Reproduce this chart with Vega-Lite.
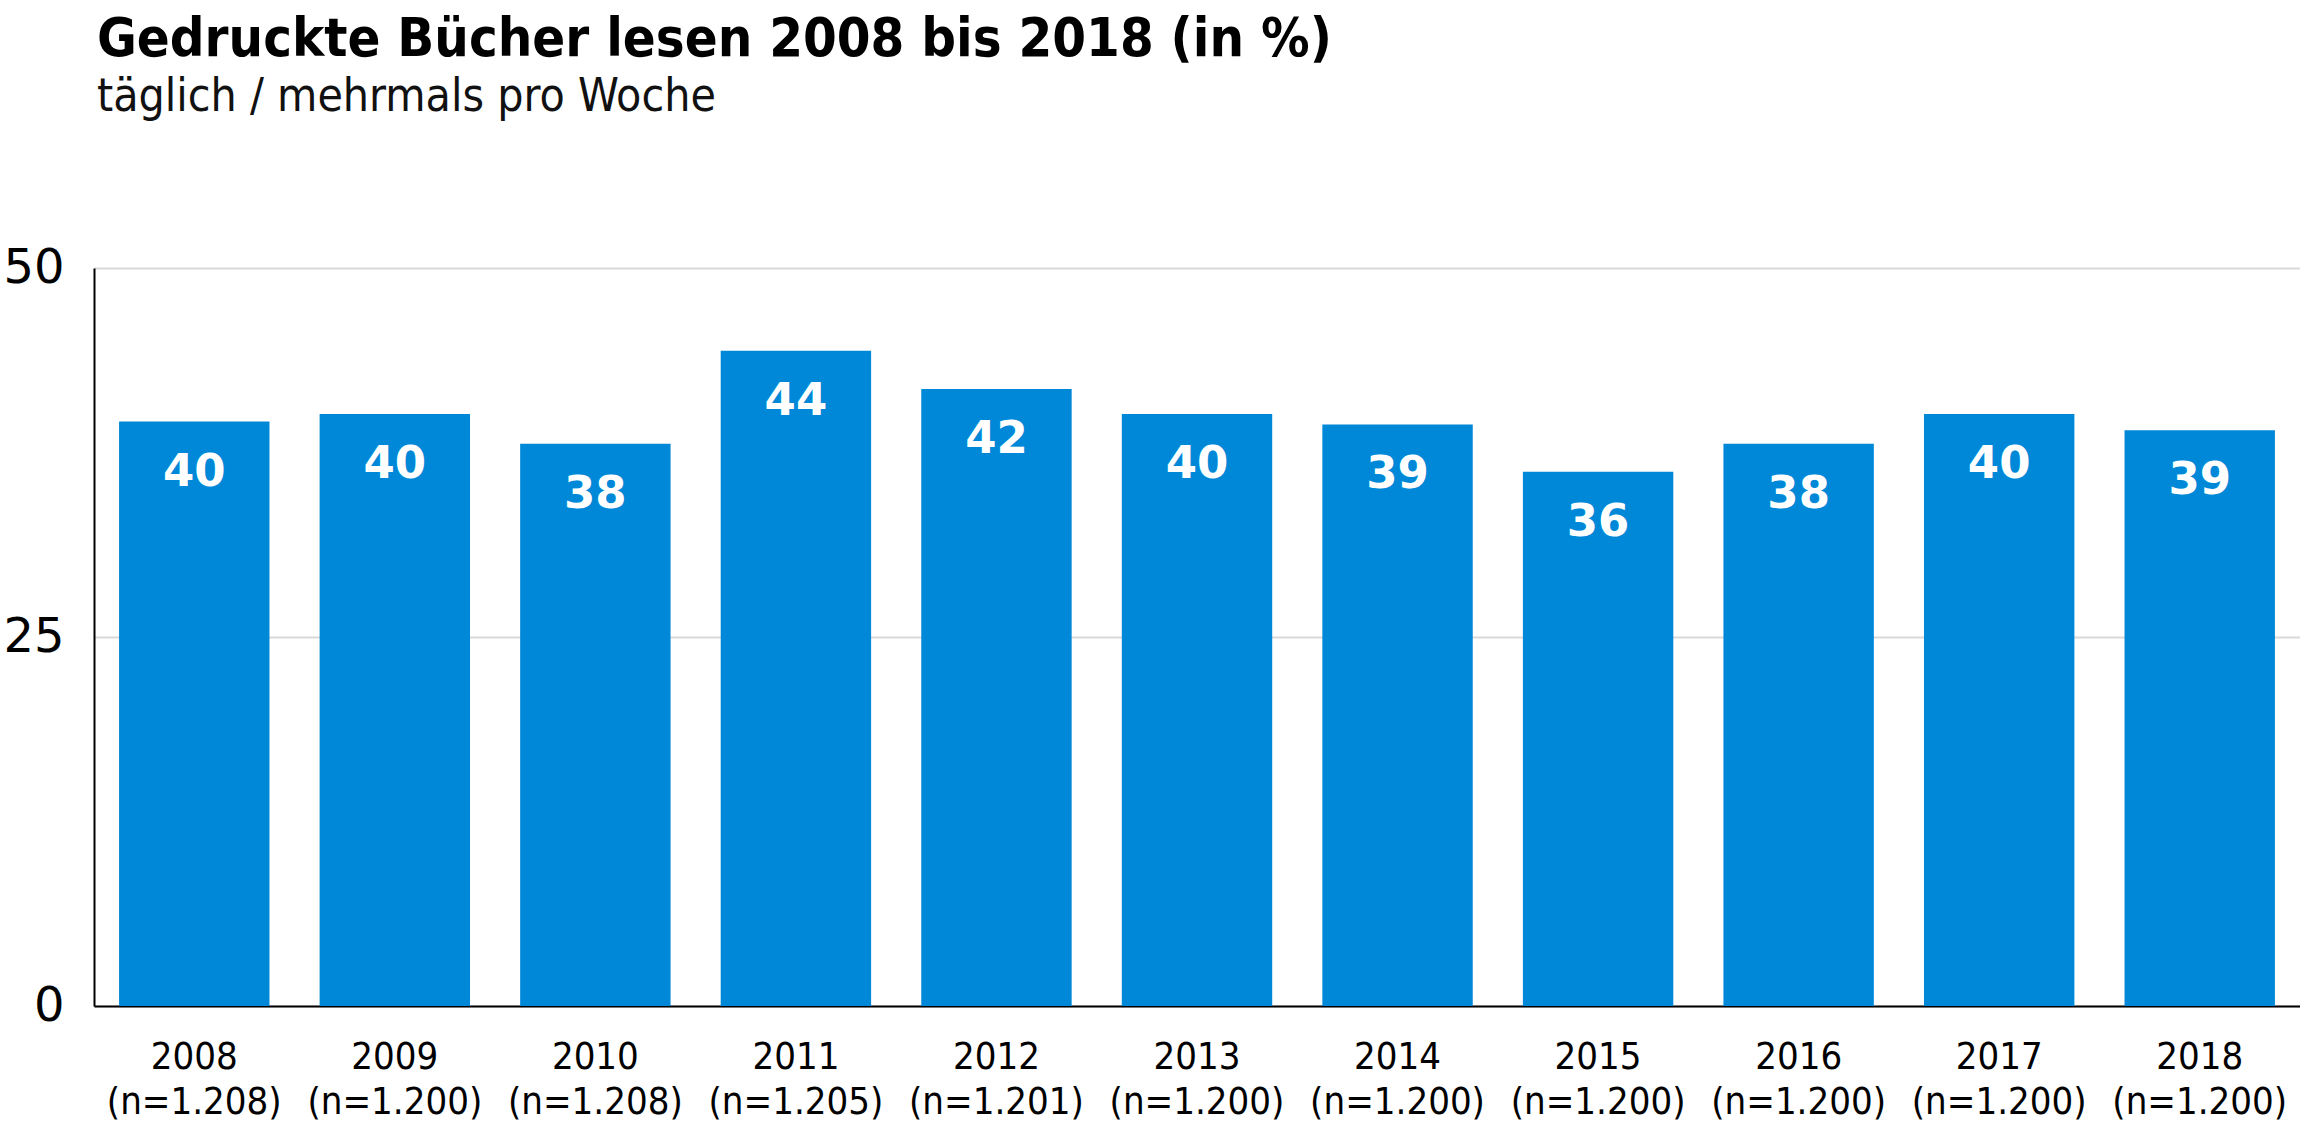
{
  "$schema": "https://vega.github.io/schema/vega-lite/v6.json",
  "width": 2206,
  "height": 738,
  "autosize": "none",
  "padding": {"left": 94, "top": 268, "right": 0, "bottom": 123},
  "background": "white",
  "config": {"view": {"stroke": null}},
  "title": {
    "text": "Gedruckte Bücher lesen 2008 bis 2018 (in %)",
    "subtitle": "täglich / mehrmals pro Woche",
    "anchor": "start",
    "frame": "group",
    "font": "DejaVu Sans Condensed, sans-serif",
    "fontSize": 54,
    "fontWeight": "bold",
    "color": "black",
    "subtitleFont": "DejaVu Sans Condensed, sans-serif",
    "subtitleFontSize": 46,
    "subtitleColor": "#111111",
    "subtitlePadding": 8,
    "offset": 124,
    "dx": 3
  },
  "data": {
    "values": [
      {"label": "2008 (n=1.208)", "value": 39.6},
      {"label": "2009 (n=1.200)", "value": 40.1},
      {"label": "2010 (n=1.208)", "value": 38.1},
      {"label": "2011 (n=1.205)", "value": 44.4},
      {"label": "2012 (n=1.201)", "value": 41.8},
      {"label": "2013 (n=1.200)", "value": 40.1},
      {"label": "2014 (n=1.200)", "value": 39.4},
      {"label": "2015 (n=1.200)", "value": 36.2},
      {"label": "2016 (n=1.200)", "value": 38.1},
      {"label": "2017 (n=1.200)", "value": 40.1},
      {"label": "2018 (n=1.200)", "value": 39.0}
    ]
  },
  "encoding": {
    "x": {
      "field": "label",
      "type": "ordinal",
      "sort": null,
      "scale": {"paddingInner": 0.25, "paddingOuter": 0.125},
      "axis": {
        "title": null,
        "labelAngle": 0,
        "labelExpr": "split(datum.value, ' ')",
        "ticks": false,
        "domainColor": "black",
        "domainWidth": 2,
        "labelFont": "DejaVu Sans Condensed, sans-serif",
        "labelFontSize": 38,
        "labelColor": "black",
        "labelPadding": 32,
        "labelLineHeight": 45
      }
    },
    "y": {
      "field": "value",
      "type": "quantitative",
      "scale": {"domain": [0, 50]},
      "axis": {
        "title": null,
        "values": [0, 25, 50],
        "ticks": false,
        "domainColor": "black",
        "domainWidth": 2,
        "gridColor": "#d9d9d9",
        "gridWidth": 2,
        "labelFont": "DejaVu Sans, sans-serif",
        "labelFontSize": 48,
        "labelPadding": 30,
        "labelColor": "black"
      }
    }
  },
  "layer": [
    {"mark": {"type": "bar", "color": "#0088d8"}},
    {
      "mark": {"type": "text", "color": "white", "font": "DejaVu Sans, sans-serif", "fontWeight": "bold", "fontSize": 45, "baseline": "middle", "dy": 50},
      "encoding": {"text": {"field": "value", "type": "quantitative", "format": ".0f"}}
    }
  ]
}
